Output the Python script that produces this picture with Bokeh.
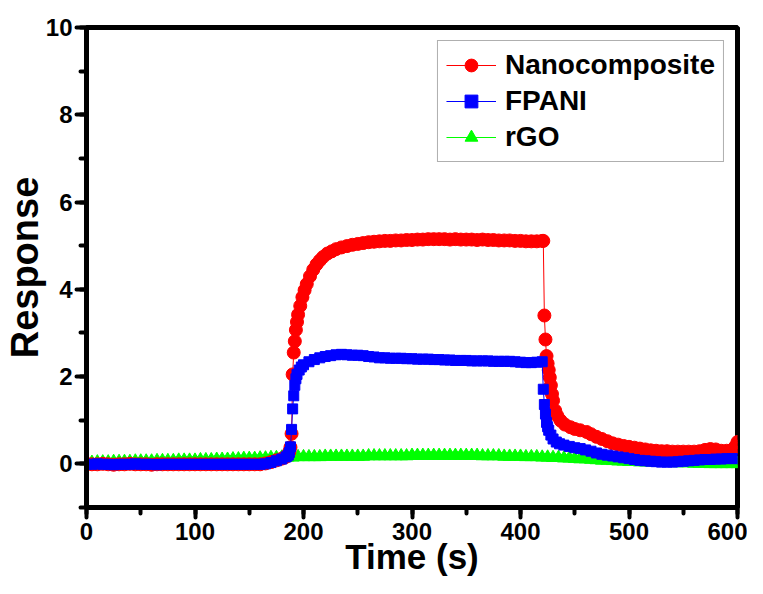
from bokeh.plotting import figure
from bokeh.models import Range1d, SingleIntervalTicker, Legend, LegendItem
from bokeh.embed import file_html
from bokeh.resources import INLINE

# ---------------- data ----------------
nano_time = (list(range(0, 185, 5)) +
             [183, 185, 186, 187, 188, 189, 190, 191, 192, 193, 194, 195, 197, 199, 201, 203,
              206, 209, 212, 215, 218, 222, 226, 230] +
             list(range(235, 425, 5)) +
             [421, 422, 423, 424, 425, 426, 427, 428, 429, 430, 432, 434, 437, 441, 446, 450,
              455, 461, 465, 470, 475, 480, 485, 490, 495, 500, 505, 510, 515, 520, 525, 530,
              535, 540, 545, 550, 555, 560, 565, 570, 575, 580, 585, 590, 595, 598, 600])
nano_resp = ([0.0, -0.01, -0.01, 0.0, -0.01, -0.02, -0.01, -0.01, 0.0, -0.01, -0.01, -0.01,
              -0.02, -0.01, -0.01, -0.01, -0.01, -0.01, -0.01, -0.01, -0.01, -0.01, -0.01,
              -0.01, -0.01, -0.01, -0.01, -0.01, -0.01, -0.01, -0.01, -0.01, -0.01, 0.01,
              0.04, 0.08, 0.12] +
             [0.15, 0.18, 0.22, 0.28, 0.38, 0.69, 2.05, 2.55, 2.81, 3.07, 3.25, 3.42, 3.62,
              3.82, 3.98, 4.12, 4.30, 4.45, 4.57, 4.66, 4.74, 4.82, 4.87, 4.92] +
             [4.96, 4.99, 5.02, 5.04, 5.06, 5.08, 5.09, 5.10, 5.11, 5.11, 5.12, 5.12, 5.13,
              5.13, 5.14, 5.14, 5.15, 5.15, 5.15, 5.15, 5.14, 5.15, 5.14, 5.14, 5.14, 5.13,
              5.14, 5.13, 5.13, 5.12, 5.12, 5.12, 5.11, 5.11, 5.10, 5.10, 5.10, 5.11] +
             [5.11, 3.40, 2.85, 2.47, 2.30, 2.15, 1.98, 1.80, 1.60, 1.45, 1.22, 1.10, 0.99,
              0.90, 0.84, 0.80, 0.77, 0.73, 0.68, 0.62, 0.57, 0.52, 0.47, 0.44, 0.41, 0.39,
              0.37, 0.35, 0.33, 0.31, 0.30, 0.29, 0.29, 0.28, 0.28, 0.28, 0.28, 0.28, 0.29,
              0.32, 0.34, 0.33, 0.30, 0.30, 0.32, 0.40, 0.50])

fpani_time = (list(range(0, 170, 5)) +
              [170, 175, 180, 184, 186, 187, 188, 189, 190, 191, 192, 193, 194, 196, 198] +
              list(range(200, 425, 5)) +
              [421, 422, 423, 424, 425, 426, 428, 430, 433, 436, 440] +
              list(range(445, 605, 5)))
fpani_resp = ([-0.01, -0.01, 0.0, -0.01, -0.01, -0.02, -0.01, -0.01, -0.01, 0.0, -0.01, -0.01,
               -0.01, -0.02, -0.01, -0.01, -0.01, -0.01, -0.01, -0.01, -0.01, -0.01, -0.01,
               -0.01, -0.01, -0.01, -0.01, -0.01, -0.01, -0.01, -0.01, -0.01, -0.01, 0.0] +
              [0.03, 0.07, 0.11, 0.16, 0.20, 0.26, 0.39, 0.79, 1.26, 1.56, 1.80, 1.95, 2.05,
               2.15, 2.22] +
              [2.27, 2.34, 2.39, 2.43, 2.46, 2.48, 2.50, 2.51, 2.50, 2.49, 2.49, 2.48, 2.46,
               2.45, 2.43, 2.43, 2.42, 2.42, 2.42, 2.41, 2.41, 2.40, 2.40, 2.40, 2.39, 2.39,
               2.38, 2.38, 2.37, 2.37, 2.37, 2.36, 2.36, 2.36, 2.36, 2.35, 2.35, 2.35, 2.35,
               2.34, 2.33, 2.32, 2.32, 2.33, 2.34] +
              [1.71, 1.36, 1.14, 0.95, 0.85, 0.77, 0.66, 0.57, 0.50, 0.46, 0.43] +
              [0.40, 0.37, 0.35, 0.32, 0.29, 0.25, 0.22, 0.20, 0.18, 0.16, 0.14, 0.12, 0.10,
               0.08, 0.07, 0.06, 0.05, 0.04, 0.04, 0.04, 0.05, 0.06, 0.07, 0.08, 0.09, 0.10,
               0.10, 0.11, 0.11, 0.12, 0.12, 0.12])

rgo_time = list(range(0, 605, 5))
rgo_resp = [0.03, 0.03, 0.04, 0.04, 0.04, 0.05, 0.05, 0.05, 0.05, 0.06, 0.06,
            0.06, 0.06, 0.07, 0.07, 0.07, 0.07, 0.08, 0.08, 0.08, 0.08,
            0.09, 0.09, 0.09, 0.10, 0.10, 0.10, 0.11, 0.11, 0.12, 0.12,
            0.12, 0.13, 0.13, 0.14, 0.14, 0.15, 0.15, 0.15, 0.16, 0.16,
            0.16, 0.16, 0.16, 0.17, 0.17, 0.17, 0.17, 0.17, 0.17, 0.17,
            0.17, 0.18, 0.18, 0.18, 0.18, 0.18, 0.18, 0.18, 0.18, 0.19,
            0.19, 0.19, 0.19, 0.19, 0.19, 0.19, 0.19, 0.19, 0.19, 0.19,
            0.19, 0.19, 0.18, 0.18, 0.18, 0.18, 0.17, 0.17, 0.17, 0.17,
            0.16, 0.16, 0.16, 0.15, 0.15, 0.14, 0.14, 0.13, 0.13, 0.12,
            0.11, 0.11, 0.10, 0.09, 0.08, 0.08, 0.07, 0.06, 0.06, 0.05,
            0.05, 0.04, 0.04, 0.04, 0.03, 0.03, 0.03, 0.03, 0.02, 0.02,
            0.02, 0.01, 0.01, 0.01, 0.0, 0.0, 0.0, 0.0, 0.0, 0.0]

series_names = ["Nanocomposite", "FPANI", "rGO"]
x_ticks_interval = 100
y_ticks_interval = 2

FONT = "Liberation Sans"

p = figure(width=747, height=578, x_range=Range1d(0, 600), y_range=Range1d(-1, 10),
           output_backend="svg", toolbar_location=None,
           min_border_left=10, min_border_right=10, min_border_top=27, min_border_bottom=10)
p.background_fill_color = "white"
p.border_fill_color = "white"
p.xgrid.visible = False
p.ygrid.visible = False
p.outline_line_color = "black"
p.outline_line_width = 5
p.outline_line_alpha = 1

p.xaxis.ticker = SingleIntervalTicker(interval=x_ticks_interval, num_minor_ticks=2)
p.yaxis.ticker = SingleIntervalTicker(interval=y_ticks_interval, num_minor_ticks=2)

for ax in (p.xaxis[0], p.yaxis[0]):
    ax.axis_line_width = 5
    ax.axis_line_color = "black"
    ax.major_tick_in = 0
    ax.major_tick_out = 10
    ax.minor_tick_in = 0
    ax.minor_tick_out = 6
    ax.major_tick_line_width = 4
    ax.minor_tick_line_width = 4
    ax.major_tick_line_cap = "round"
    ax.minor_tick_line_cap = "round"
    ax.major_label_text_font = FONT
    ax.major_label_text_font_style = "bold"
    ax.major_label_text_font_size = "24px"
    ax.major_label_text_color = "black"
    ax.axis_label_text_font = FONT
    ax.axis_label_text_font_style = "bold"
    ax.axis_label_text_color = "black"

p.xaxis.major_label_standoff = 5
p.xaxis.axis_label_standoff = -6
p.yaxis.major_label_standoff = 4
p.yaxis.axis_label_standoff = -3

p.xaxis.axis_label = "Time (s)"
p.xaxis.axis_label_text_font_size = "35px"
p.yaxis.axis_label = "Response"
p.yaxis.axis_label_text_font_size = "38px"

# draw green first, then red, then blue on top
p.line(rgo_time, rgo_resp, line_color="#00FF00", line_width=8)  # dense band under markers
g_line = p.line(rgo_time, rgo_resp, line_color="#00FF00", line_width=1)
g_pts = p.scatter(rgo_time, rgo_resp, marker="triangle", size=13,
                  fill_color="#00FF00", line_color="#00FF00")
r_line = p.line(nano_time, nano_resp, line_color="#FF0000", line_width=1)
r_pts = p.scatter(nano_time, nano_resp, marker="circle", size=13,
                  fill_color="#FF0000", line_color="#FF0000")
b_line = p.line(fpani_time, fpani_resp, line_color="#0000FF", line_width=1)
b_pts = p.scatter(fpani_time, fpani_resp, marker="square", size=10,
                  fill_color="#0000FF", line_color="#0000FF")

legend = Legend(items=[
    LegendItem(label=series_names[0], renderers=[r_line, r_pts]),
    LegendItem(label=series_names[1], renderers=[b_line, b_pts]),
    LegendItem(label=series_names[2], renderers=[g_line, g_pts]),
], location="top_right")
legend.margin = 13
legend.padding = 8
legend.spacing = 4
legend.glyph_width = 50
legend.glyph_height = 32
legend.label_height = 32
legend.label_standoff = 9
legend.label_text_font = FONT
legend.label_text_font_style = "bold"
legend.label_text_font_size = "28px"
legend.label_text_color = "black"
legend.border_line_color = "#606060"
legend.border_line_width = 1.5
legend.background_fill_color = "white"
legend.background_fill_alpha = 1
p.add_layout(legend)

open("out.html", "w").write(file_html(p, INLINE))
